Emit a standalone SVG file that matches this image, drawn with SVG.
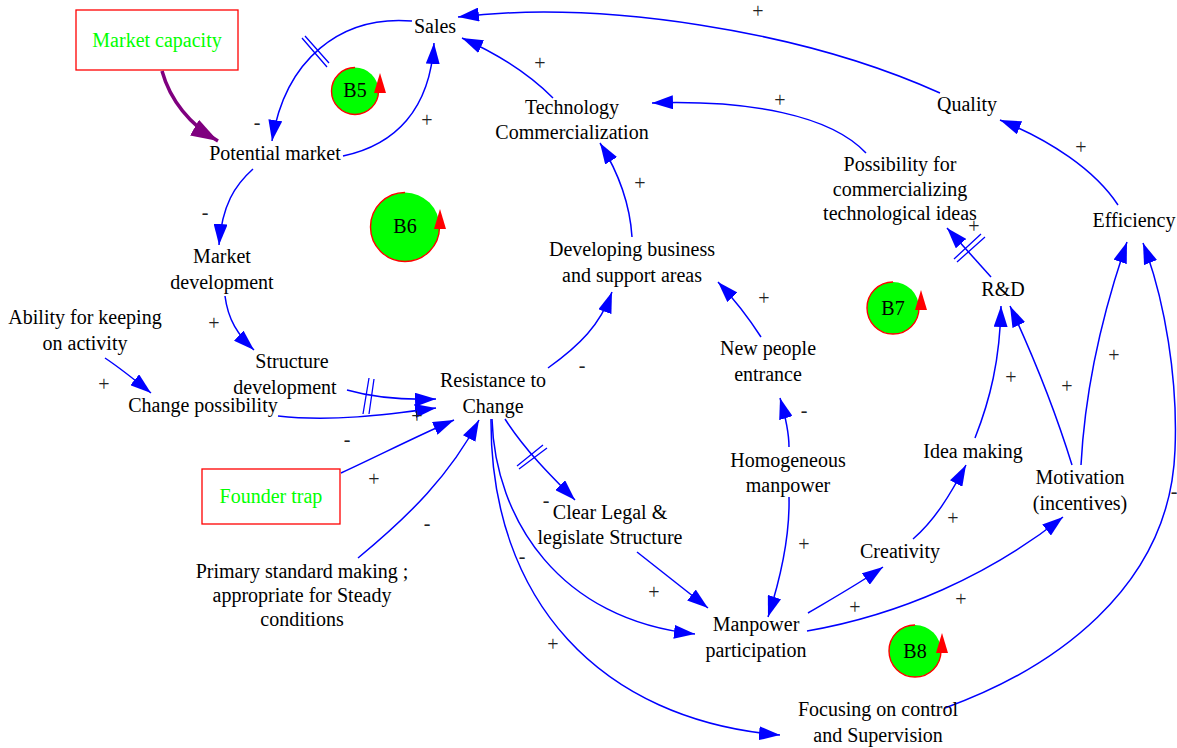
<svg xmlns="http://www.w3.org/2000/svg" width="1177" height="748" viewBox="0 0 1177 748">
<style>
text{font-family:"Liberation Serif","Times New Roman",serif;font-size:20px;fill:#000;text-anchor:middle}
.g{fill:#00ff00}
.s{font-size:20px;fill:#222}
.c{fill:none;stroke:#0000ff;stroke-width:1.5;marker-end:url(#a)}
.d{fill:none;stroke:#0000ff;stroke-width:1.3}
.box{fill:#fff;stroke:#ff0000;stroke-width:1.3}
.loop{fill:#00ff00}
.arc{fill:none;stroke:#ff0000;stroke-width:1.4}
.tri{fill:#ff0000}
</style>
<defs>
<marker id="a" markerUnits="userSpaceOnUse" markerWidth="22" markerHeight="14" refX="21" refY="7" orient="auto"><path d="M0,0L21,7L0,14z" fill="#0000ff"/></marker>
<marker id="p" markerUnits="userSpaceOnUse" markerWidth="28" markerHeight="18" refX="27" refY="9" orient="auto"><path d="M0,0L27,9L0,18z" fill="#7f007f"/></marker>
</defs>
<g id="connectors">
<path class="c" d="M412,21C340,15 285,60 272,141"/>
<path class="c" d="M343,156C395,145 430,110 434,43"/>
<path d="M162,71C170,100 190,125 218,141" fill="none" stroke="#7f007f" stroke-width="3.5" marker-end="url(#p)"/>
<path class="c" d="M253,169C235,185 222,205 219,245"/>
<path class="c" d="M225,296C228,320 238,335 254,350"/>
<path class="c" d="M105,358C120,368 135,380 151,393"/>
<path class="c" d="M347,390C375,398 405,400 436,399"/>
<path class="c" d="M278,416C330,422 385,415 436,408"/>
<path class="c" d="M341,473C380,455 415,437 454,420"/>
<path class="c" d="M358,558C410,515 450,475 479,420"/>
<path class="c" d="M505,419C525,450 550,475 575,500"/>
<path class="c" d="M492,419C495,520 560,620 695,634"/>
<path class="c" d="M491,419C490,600 600,720 780,735"/>
<path class="c" d="M548,368C580,345 600,325 612,292"/>
<path class="c" d="M632,237C630,205 620,175 600,143"/>
<path class="c" d="M553,98C530,75 500,55 462,38"/>
<path class="c" d="M940,93C800,30 600,0 458,17"/>
<path class="c" d="M866,153C830,115 750,100 652,103"/>
<path class="c" d="M991,277L947,228"/>
<path class="c" d="M1118,205C1095,170 1050,140 1000,120"/>
<path class="c" d="M1081,465C1085,390 1100,320 1127,242"/>
<path class="c" d="M1072,465C1055,410 1035,360 1010,306"/>
<path class="c" d="M975,438C990,400 1000,360 1001,306"/>
<path class="c" d="M913,539C935,520 950,495 966,465"/>
<path class="c" d="M808,613C830,600 860,583 883,567"/>
<path class="c" d="M807,631C900,615 990,575 1063,517"/>
<path class="c" d="M789,497C790,540 780,580 768,617"/>
<path class="c" d="M789,447C789,430 785,415 780,398"/>
<path class="c" d="M761,337C750,320 735,300 718,282"/>
<path class="c" d="M637,552C660,570 685,590 708,608"/>
<path class="c" d="M945,708C1050,670 1170,590 1175,450C1178,380 1165,300 1143,243"/>
<path class="d" d="M302,38L327,67M305,36L329,63"/>
<path class="d" d="M363,414L369,378M369,414L374,379"/>
<path class="d" d="M517,466L543,445M519,469L547,448"/>
<path class="d" d="M954,259L981,234M957,262L985,237"/>
</g>
<g id="market-capacity"><rect class="box" x="76" y="10" width="162" height="60"/><text class="g" x="157" y="47">Market capacity</text></g>
<g id="founder-trap"><rect class="box" x="202" y="469" width="138" height="55"/><text class="g" x="271" y="503">Founder trap</text></g>
<g id="sales"><text x="435" y="33">Sales</text></g>
<g id="potential-market"><text x="275" y="160">Potential market</text></g>
<g id="market-development"><text x="222" y="263">Market</text><text x="222" y="289">development</text></g>
<g id="ability"><text x="85" y="324">Ability for keeping</text><text x="85" y="350">on activity</text></g>
<g id="structure-development"><text x="292" y="368">Structure</text><text x="285" y="394">development</text></g>
<g id="change-possibility"><text x="203" y="412">Change possibility</text></g>
<g id="resistance"><text x="493" y="387">Resistance to</text><text x="493" y="413">Change</text></g>
<g id="primary-standard"><text x="302" y="578">Primary standard making ;</text><text x="302" y="602">appropriate for Steady</text><text x="302" y="626">conditions</text></g>
<g id="clear-legal"><text x="610" y="519">Clear Legal &amp;</text><text x="610" y="544">legislate Structure</text></g>
<g id="technology"><text x="572" y="114">Technology</text><text x="572" y="139">Commercialization</text></g>
<g id="developing"><text x="632" y="256">Developing business</text><text x="632" y="282">and support areas</text></g>
<g id="possibility"><text x="900" y="171">Possibility for</text><text x="900" y="196">commercializing</text><text x="900" y="220">technological ideas</text></g>
<g id="quality"><text x="967" y="111">Quality</text></g>
<g id="efficiency"><text x="1134" y="227">Efficiency</text></g>
<g id="rd"><text x="1003" y="296">R&amp;D</text></g>
<g id="new-people"><text x="768" y="355">New people</text><text x="768" y="381">entrance</text></g>
<g id="homogeneous"><text x="788" y="467">Homogeneous</text><text x="788" y="492">manpower</text></g>
<g id="idea-making"><text x="973" y="458">Idea making</text></g>
<g id="motivation"><text x="1080" y="484">Motivation</text><text x="1080" y="510">(incentives)</text></g>
<g id="creativity"><text x="900" y="558">Creativity</text></g>
<g id="manpower"><text x="756" y="631">Manpower</text><text x="756" y="657">participation</text></g>
<g id="focusing"><text x="878" y="716">Focusing on control</text><text x="878" y="742">and Supervision</text></g>
<g id="b5"><circle class="loop" cx="355" cy="91" r="23.500"/><path class="arc" d="M355,67.500A23.500,23.500 0 1 0 378.500,91"/><path class="tri" d="M380,73L386,93H374z"/><text x="355" y="97">B5</text></g>
<g id="b6"><circle class="loop" cx="405" cy="227" r="34.500"/><path class="arc" d="M405,192.500A34.500,34.500 0 1 0 439.500,227"/><path class="tri" d="M440,209L446,229H434z"/><text x="405" y="233">B6</text></g>
<g id="b7"><circle class="loop" cx="893" cy="308" r="26"/><path class="arc" d="M893,282A26,26 0 1 0 919,308"/><path class="tri" d="M921,290L927,310H915z"/><text x="893" y="315">B7</text></g>
<g id="b8"><circle class="loop" cx="915" cy="651" r="26"/><path class="arc" d="M915,625A26,26 0 1 0 941,651"/><path class="tri" d="M942,633L948,653H936z"/><text x="915" y="658">B8</text></g>
<g id="polarities">
<text class="s" x="758" y="18">+</text><text class="s" x="540" y="70">+</text><text class="s" x="427" y="127">+</text><text class="s" x="257" y="129">-</text><text class="s" x="205" y="219">-</text><text class="s" x="780" y="107">+</text><text class="s" x="1081" y="154">+</text><text class="s" x="640" y="190">+</text><text class="s" x="974" y="233">+</text><text class="s" x="214" y="330">+</text><text class="s" x="104" y="391">+</text><text class="s" x="764" y="305">+</text><text class="s" x="582" y="372">-</text><text class="s" x="804" y="417">-</text><text class="s" x="1114" y="362">+</text><text class="s" x="1011" y="384">+</text><text class="s" x="1067" y="393">+</text><text class="s" x="417" y="423">+</text><text class="s" x="347" y="446">-</text><text class="s" x="374" y="486">+</text><text class="s" x="427" y="530">-</text><text class="s" x="546" y="507">-</text><text class="s" x="522" y="563">-</text><text class="s" x="804" y="551">+</text><text class="s" x="953" y="525">+</text><text class="s" x="654" y="599">+</text><text class="s" x="855" y="614">+</text><text class="s" x="961" y="606">+</text><text class="s" x="553" y="651">+</text><text class="s" x="1174" y="498">-</text>
</g>
</svg>
